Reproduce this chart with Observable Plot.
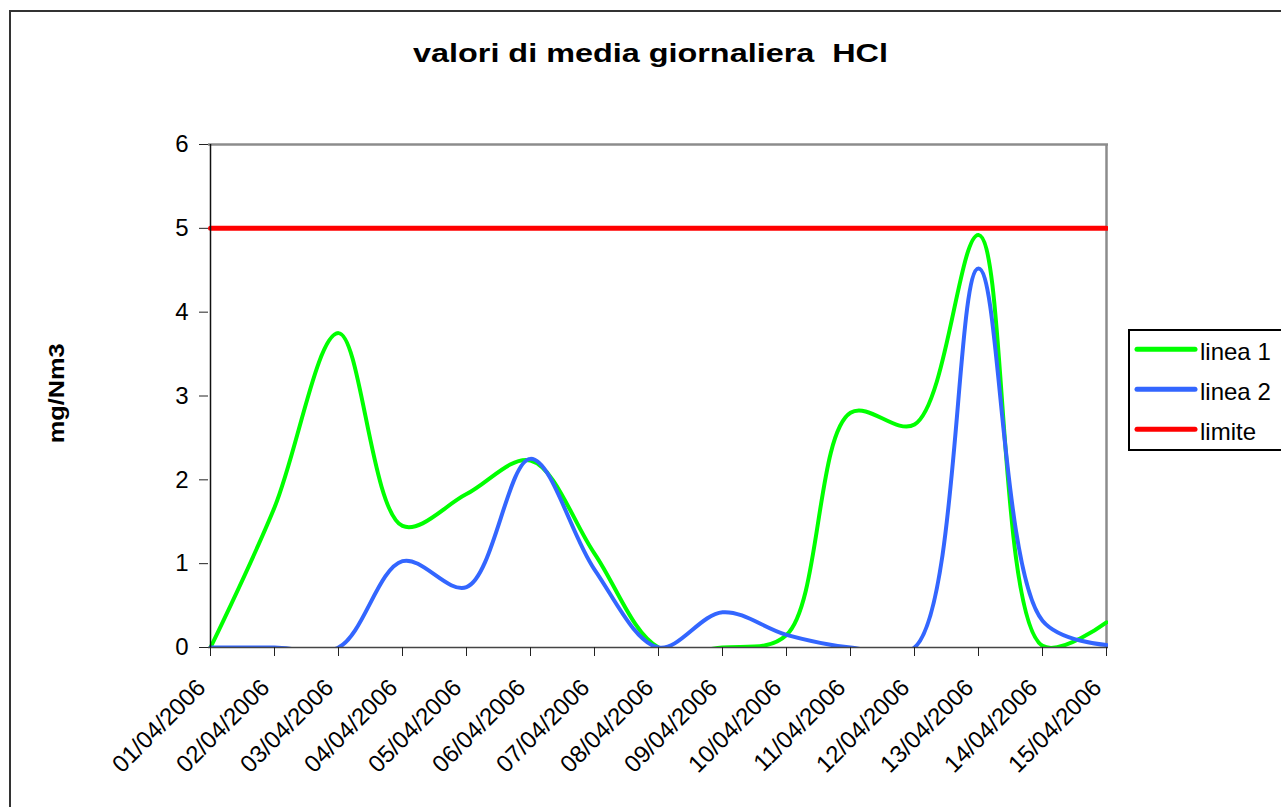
<!DOCTYPE html>
<html>
<head>
<meta charset="utf-8">
<script src="https://cdn.jsdelivr.net/npm/d3@7"></script>
<script src="https://cdn.jsdelivr.net/npm/@observablehq/plot@0.6"></script>
<style>
html, body { margin: 0; padding: 0; background: #fff; overflow: hidden; width: 1281px; height: 807px; }
#frame { position: absolute; left: 9px; top: 10px; width: 1400px; height: 900px; border: 2px solid #333; box-sizing: border-box; }
#chart { position: absolute; left: 0; top: 0; }
#overlay { position: absolute; left: 0; top: 0; pointer-events: none; }
</style>
</head>
<body>
<div id="frame"></div>
<div id="chart"></div>
<svg id="overlay" width="1281" height="807" xmlns="http://www.w3.org/2000/svg"></svg>
<script>
// ---- data ----
const dates = ["01/04/2006","02/04/2006","03/04/2006","04/04/2006","05/04/2006","06/04/2006","07/04/2006",
               "08/04/2006","09/04/2006","10/04/2006","11/04/2006","12/04/2006","13/04/2006","14/04/2006","15/04/2006"];
const linea1 = [0, 1.67, 3.75, 1.45, 1.83, 2.23, 1.12, 0, 0, 0.15, 2.8, 2.66, 4.92, 0.02, 0.3];
const linea2 = [0, 0, 0, 1.03, 0.72, 2.25, 0.93, 0, 0.42, 0.15, 0, 0, 4.52, 0.32, 0.03];
const limite = [5, 5, 5, 5, 5, 5, 5, 5, 5, 5, 5, 5, 5, 5, 5];
const yTicks = [0, 1, 2, 3, 4, 5, 6];
const seriesNames = ["linea 1", "linea 2", "limite"];
const seriesColors = ["#00ff00", "#3366ff", "#ff0000"];
const title = "valori di media giornaliera  HCl";
const yLabel = "mg/Nm3";

const toRows = vals => dates.map((d, i) => ({date: d, value: vals[i]}));
const smooth = d3.curveCatmullRom.alpha(0.5);
const font = '"Liberation Sans", Arial, sans-serif';

const chart = Plot.plot({
  width: 1281,
  height: 807,
  marginLeft: 208,
  marginRight: 173,
  marginTop: 144,
  marginBottom: 160,
  style: {fontFamily: font, color: "#000", background: "transparent", overflow: "visible"},
  x: {type: "point", domain: dates, padding: 0},
  y: {domain: [0, 6]},
  marks: [
    Plot.ruleY([6], {stroke: "#8c8c8c", strokeWidth: 2.5}),
    Plot.ruleX([dates[dates.length - 1]], {stroke: "#8c8c8c", strokeWidth: 2.5}),
    Plot.line(toRows(linea1), {x: "date", y: "value", stroke: seriesColors[0], strokeWidth: 4, curve: smooth, clip: true}),
    Plot.line(toRows(linea2), {x: "date", y: "value", stroke: seriesColors[1], strokeWidth: 4, curve: smooth, clip: true}),
    Plot.line(toRows(limite), {x: "date", y: "value", stroke: seriesColors[2], strokeWidth: 5, curve: smooth, clip: true}),
    Plot.ruleY([0], {stroke: "#444", strokeWidth: 1.5}),
    Plot.ruleX([dates[0]], {stroke: "#111", strokeWidth: 1.5}),
    Plot.axisY(yTicks, {tickSize: 9, tickPadding: 11, fontSize: 24, label: null, stroke: "#222", tickFormat: d => String(d)}),
    Plot.axisX({tickSize: 9, tickFormat: () => "", label: null, stroke: "#222"}),
    Plot.axisX({tickSize: 0, tickPadding: 36, tickRotate: -45, fontSize: 24, dx: -9, label: null})
  ]
});
document.getElementById("chart").appendChild(chart);

// ---- title, y label, legend ----
const ov = d3.select("#overlay");
ov.append("text")
  .attr("x", 650.5).attr("y", 61.7)
  .attr("text-anchor", "middle")
  .attr("font-family", font).attr("font-size", 26).attr("font-weight", "bold")
  .attr("textLength", 475).attr("lengthAdjust", "spacingAndGlyphs")
  .style("white-space", "pre")
  .text(title);

ov.append("text")
  .attr("transform", "translate(64,393.3) rotate(-90)")
  .attr("text-anchor", "middle")
  .attr("font-family", font).attr("font-size", 22).attr("font-weight", "bold")
  .attr("textLength", 100).attr("lengthAdjust", "spacingAndGlyphs")
  .text(yLabel);

const lg = ov.append("g");
lg.append("rect").attr("x", 1129).attr("y", 330).attr("width", 200).attr("height", 120)
  .attr("fill", "#fff").attr("stroke", "#000").attr("stroke-width", 2);
seriesNames.forEach((name, i) => {
  const y = 349.3 + i * 40;
  lg.append("line").attr("x1", 1137).attr("x2", 1195).attr("y1", y).attr("y2", y)
    .attr("stroke", seriesColors[i]).attr("stroke-width", 5).attr("stroke-linecap", "round");
  lg.append("text").attr("x", 1200).attr("y", y + 11)
    .attr("font-family", font).attr("font-size", 24).text(name);
});
</script>
</body>
</html>
